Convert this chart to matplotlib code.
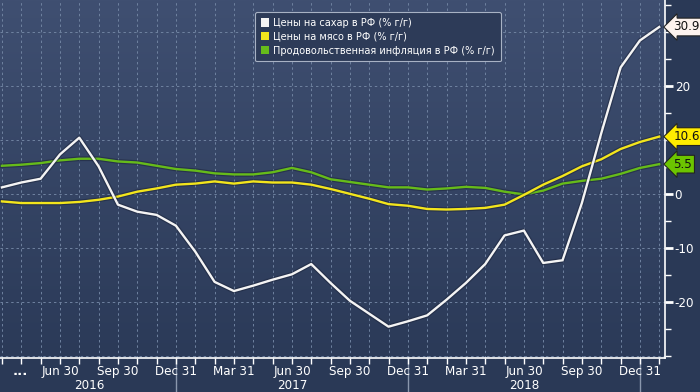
import numpy as np
import matplotlib
matplotlib.use('Agg')
import matplotlib.pyplot as plt
from matplotlib.patches import Patch
import matplotlib.patheffects as pe

# monthly points, Mar 2016 .. Jan 2019 (index 0 = Mar 31 2016)
sugar = [1.2, 2.1, 2.8, 7.3, 10.4, 5.1, -2.0, -3.3, -3.9, -5.9, -10.7, -16.3,
         -18.0, -17.0, -15.9, -14.9, -13.0, -16.5, -19.8, -22.2, -24.6, -23.6,
         -22.5, -19.6, -16.5, -13.0, -7.7, -6.8, -12.8, -12.3, -1.7, 11.2,
         23.4, 28.4, 30.9]
meat = [-1.4, -1.7, -1.7, -1.7, -1.5, -1.1, -0.5, 0.4, 1.0, 1.7, 1.9, 2.3,
        1.9, 2.3, 2.1, 2.1, 1.7, 0.9, 0.0, -0.9, -1.9, -2.2, -2.8, -2.9,
        -2.8, -2.6, -2.0, -0.2, 1.7, 3.3, 5.1, 6.4, 8.3, 9.6, 10.6]
food = [5.2, 5.4, 5.7, 6.2, 6.5, 6.5, 6.0, 5.8, 5.2, 4.6, 4.3, 3.8,
        3.6, 3.6, 4.0, 4.8, 4.0, 2.7, 2.2, 1.7, 1.2, 1.2, 0.8, 1.0,
        1.3, 1.1, 0.4, -0.1, 0.6, 1.9, 2.4, 2.8, 3.7, 4.8, 5.5]
labels = ['Цены на сахар в РФ (% г/г)', 'Цены на мясо в РФ (% г/г)',
          'Продовольственная инфляция в РФ (% г/г)']
quarter_labels = ['Jun 30', 'Sep 30', 'Dec 31', 'Mar 31', 'Jun 30', 'Sep 30',
                  'Dec 31', 'Mar 31', 'Jun 30', 'Sep 30', 'Dec 31']
years = ['2016', '2017', '2018']

months = np.arange(len(sugar))
bg = '#2a3956'
cols = ['#f4f4f4', '#f3e51c', '#66bb1a']
badge_cols = ['#fdf3ee', '#ffec00', '#6cc400']
tick_font = dict(family='DejaVu Sans', stretch='condensed')

fig = plt.figure(figsize=(7, 3.92), dpi=100, facecolor=bg)
ax = fig.add_axes([0, 34/392, 665/700, 358/392])
ax.set_xlim(-0.1, 34.3)
ax.set_ylim(-30.4, 35.9)

# background gradient
grad = np.linspace(0, 1, 256).reshape(-1, 1)
cmap = matplotlib.colors.LinearSegmentedColormap.from_list('bg', ['#2b3a58', '#3f4f71'])
ax.imshow(grad, extent=[0, 1, 0, 1], transform=ax.transAxes, origin='lower',
          aspect='auto', cmap=cmap, zorder=0)

for m in range(35):
    ax.axvline(m, color='#6f82a0', lw=0.7, ls=(0, (2.5, 3)), zorder=1)
for v in range(-30, 40, 10):
    ax.axhline(v, color='#6f82a0', lw=0.7, ls=(0, (2.5, 3)), zorder=1)

shadow = [pe.Stroke(linewidth=3.4, foreground='#1a2238', alpha=0.5), pe.Normal()]
for data, c in zip([food, meat, sugar], [cols[2], cols[1], cols[0]]):
    ax.plot(months, data, color=c, lw=1.7, zorder=3, path_effects=shadow)

# value badges
for data, bc in zip([sugar, meat, food], badge_cols):
    ax.annotate(f'{data[-1]:.1f}', xy=(1.0, data[-1]), xycoords=('axes fraction', 'data'),
                xytext=(6, 0), textcoords='offset points', va='center', ha='left',
                fontsize=9.5, color='#111111', **tick_font,
                bbox=dict(boxstyle='larrow,pad=0.18', fc=bc, ec='#222222', lw=0.8),
                annotation_clip=False, zorder=5)

# spines and ticks
for s in ['top', 'left']:
    ax.spines[s].set_visible(False)
ax.spines['right'].set_color('white')
ax.spines['bottom'].set_color('white')
ax.spines['right'].set_linewidth(1.2)
ax.spines['bottom'].set_linewidth(1.2)

ax.yaxis.tick_right()
ax.set_yticks([-20, -10, 0, 20])
ax.set_yticklabels(['-20', '-10', '0', '20'])
ax.set_yticks(np.arange(-30, 36, 5), minor=True)
ax.tick_params(axis='y', which='major', colors='white', length=6, width=2, pad=1,
               labelsize=9.5)
ax.tick_params(axis='y', which='minor', colors='white', length=4, width=1)
for t in ax.get_yticklabels():
    t.set_fontstretch('condensed')

ax.set_xticks(np.arange(3, 34, 3))
ax.set_xticklabels(quarter_labels)
ax.set_xticks(np.arange(0, 35), minor=True)
ax.tick_params(axis='x', which='both', colors='white', length=4, width=1, pad=1,
               labelsize=9.5)
for t in ax.get_xticklabels():
    t.set_fontstretch('condensed')
ax.text(0.95, -0.02, '...', transform=ax.get_xaxis_transform(), color='white',
        ha='center', va='top', fontsize=9.5, fontweight='bold')

# year separators and labels
for m in [9, 21, 33]:
    ax.plot([m, m], [0, -0.095], transform=ax.get_xaxis_transform(), color='#8a97ad',
            lw=1, clip_on=False, zorder=1)
for m, y in zip([4.5, 15, 27], years):
    ax.text(m, -0.094, y, transform=ax.get_xaxis_transform(), color='white',
            ha='center', va='bottom', fontsize=9.5, **tick_font)

handles = [Patch(facecolor=c, edgecolor='none') for c in cols]
leg = ax.legend(handles, labels, loc='upper left', bbox_to_anchor=(250/665, 0.98),
                fontsize=7.0, frameon=True, fancybox=True, handlelength=0.9,
                handleheight=0.9, handletextpad=0.4, labelspacing=0.4,
                borderpad=0.6, labelcolor='white')
leg.get_frame().set_facecolor('#2d3b58')
leg.get_frame().set_edgecolor('#a8b2c4')
leg.get_frame().set_linewidth(0.8)
leg.get_frame().set_alpha(1)
leg.set_zorder(6)

fig.savefig('out.png', dpi=100, facecolor=bg)
